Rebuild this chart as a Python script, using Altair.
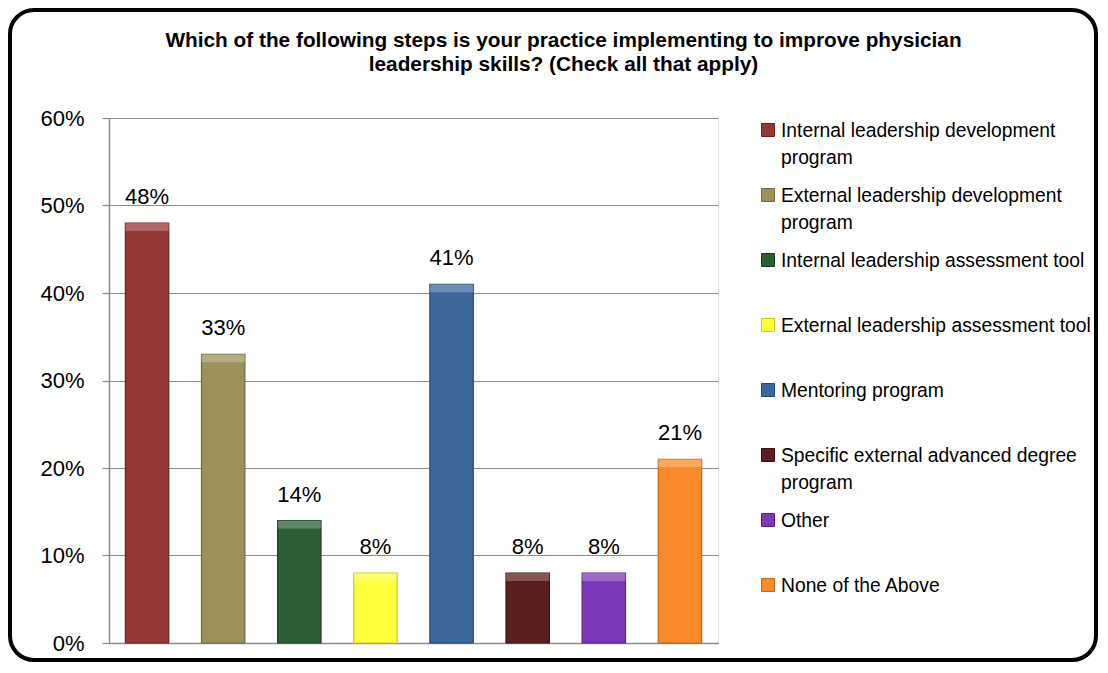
import altair as alt
import pandas as pd

# ---- data ----
categories = [
    "Internal leadership development program",
    "External leadership development program",
    "Internal leadership assessment tool",
    "External leadership assessment tool",
    "Mentoring program",
    "Specific external advanced degree program",
    "Other",
    "None of the Above",
]
values = [0.48, 0.33, 0.14, 0.08, 0.41, 0.08, 0.08, 0.21]
legend_labels = [
    "Internal leadership development\nprogram",
    "External leadership development\nprogram",
    "Internal leadership assessment tool",
    "External leadership assessment tool",
    "Mentoring program",
    "Specific external advanced degree\nprogram",
    "Other",
    "None of the Above",
]
y_ticks = [0, 0.1, 0.2, 0.3, 0.4, 0.5, 0.6]
title_lines = [
    "Which of the following steps is your practice implementing to improve physician",
    "leadership skills? (Check all that apply)",
]

# ---- style ----
colors = ["#953735", "#9C9259", "#2E5E36", "#FFFF3B", "#3C679B", "#5B1F1F", "#7C38B8", "#F88A2B"]
edge_colors = ["#6A2321", "#72693C", "#1C3E22", "#C9C91E", "#264870", "#3B1010", "#58238A", "#C4681A"]
FONT = "Liberation Sans"
GRID = "#8C8C8C"

df = pd.DataFrame({"category": categories, "value": values, "legend_label": legend_labels})

color_scale = alt.Scale(domain=categories, range=colors)
stroke_scale = alt.Scale(domain=categories, range=edge_colors)
y_scale = alt.Scale(domain=[0, 0.6], nice=False, zero=True)

x_enc = alt.X(
    "category:N",
    sort=categories,
    scale=alt.Scale(domain=categories, paddingInner=0.43, paddingOuter=0.215),
    axis=alt.Axis(title=None, labels=False, ticks=False, grid=False,
                  domainColor=GRID, domainWidth=1.5),
)
y_axis = alt.Axis(
    title=None, format=".0%", values=y_ticks, grid=True, gridColor=GRID, gridWidth=1.2,
    tickColor=GRID, tickSize=7, tickWidth=1.2, domainColor=GRID, domainWidth=1.5,
    labelFontSize=22, labelFont=FONT, labelColor="black", labelPadding=18,
)

base = alt.Chart(df)

frame = alt.Chart(pd.DataFrame({"frame": [1]})).mark_rect(
    fill="white", fillOpacity=0, stroke="black", strokeWidth=4, cornerRadius=24
).encode(x=alt.value(-99), x2=alt.value(987), y=alt.value(-108), y2=alt.value(542))

bars = base.mark_bar(strokeWidth=1.2).encode(
    x=x_enc,
    y=alt.Y("value:Q", scale=y_scale, axis=y_axis),
    color=alt.Color("category:N", scale=color_scale, legend=None),
    stroke=alt.Stroke("category:N", scale=stroke_scale, legend=None),
)

bevel = base.transform_calculate(top2="datum.value - 0.009").mark_bar(
    color="white", opacity=0.25
).encode(
    x=alt.X("category:N", sort=categories),
    y=alt.Y("value:Q", scale=y_scale, axis=None),
    y2="top2:Q",
)

labels = base.mark_text(baseline="alphabetic", dy=-19, fontSize=22, font=FONT, color="black").encode(
    x=alt.X("category:N", sort=categories),
    y=alt.Y("value:Q", scale=y_scale, axis=None),
    text=alt.Text("value:Q", format=".0%"),
)

legend_y = alt.Y(
    "category:N", sort=categories,
    scale=alt.Scale(type="point", domain=categories, range=[12, 467], padding=0),
    axis=None,
)

legend_sq = base.mark_square(size=169, strokeWidth=1, opacity=1).encode(
    x=alt.value(659),
    y=legend_y,
    color=alt.Color("category:N", scale=color_scale, legend=None),
    stroke=alt.Stroke("category:N", scale=stroke_scale, legend=None),
)

legend_txt = base.mark_text(
    align="left", baseline="alphabetic", dy=7, fontSize=19.3, lineHeight=27,
    lineBreak="\n", font=FONT, color="black",
).encode(
    x=alt.value(672),
    y=legend_y,
    text="legend_label:N",
)

chart = alt.layer(frame, bars, bevel, labels, legend_sq, legend_txt).resolve_scale(
    y="independent"
).properties(
    width=609,
    height=525,
    title=alt.Title(
        text=title_lines, fontSize=20.8, font=FONT, fontWeight="bold", color="black",
        anchor="middle", dx=150, offset=-68, lineHeight=24,
    ),
    autosize=alt.AutoSizeParams(type="none"),
    padding={"left": 101, "top": 110, "right": 382, "bottom": 20},
).configure_view(stroke=None).configure(background="white")

chart.save("out.html", embed_options={"renderer": "svg", "actions": False})
